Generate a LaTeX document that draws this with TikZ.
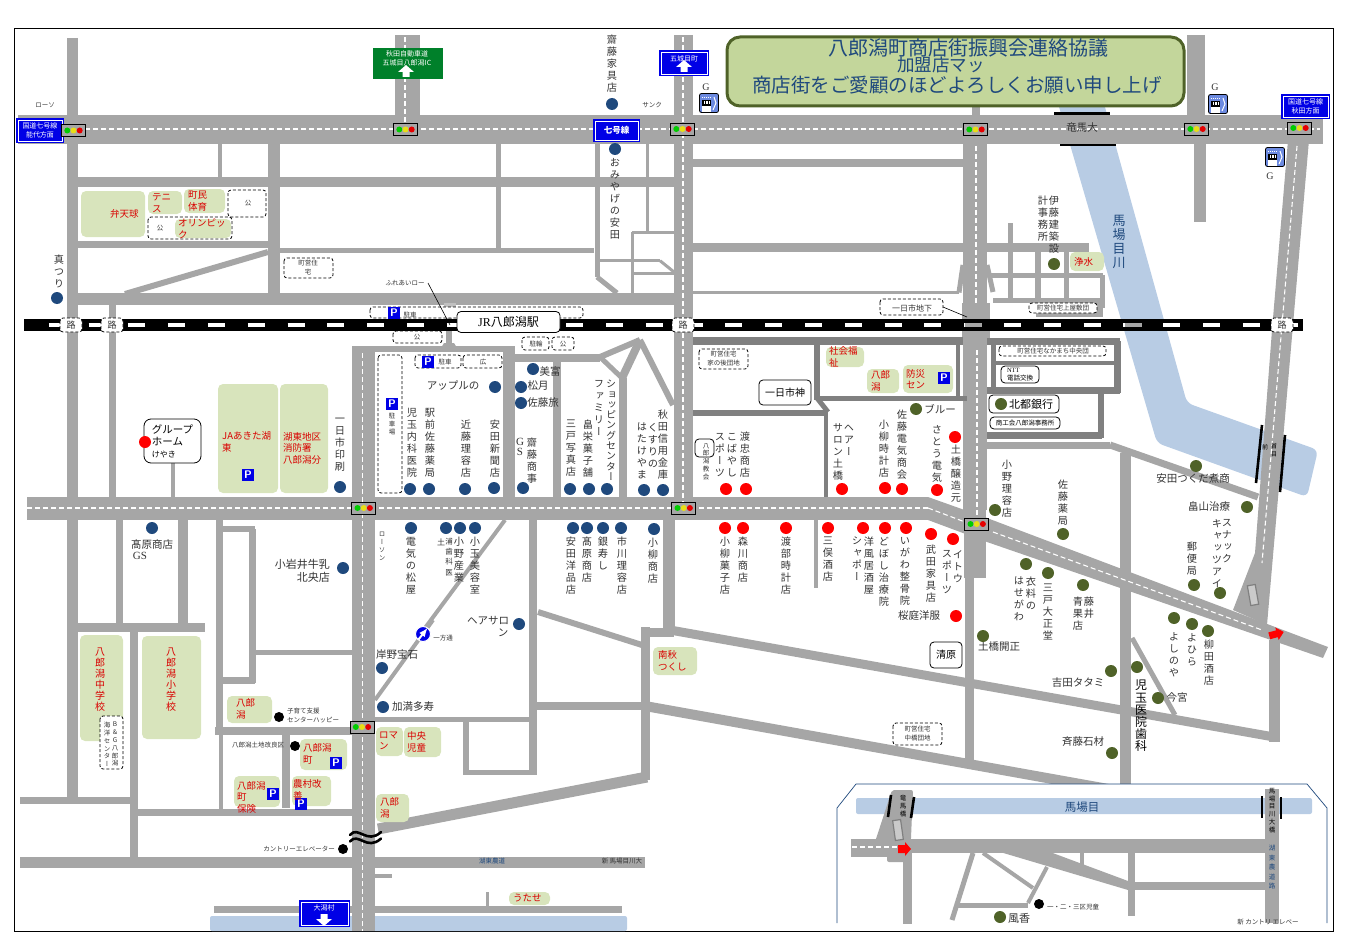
\documentclass[tikz,border=0pt]{standalone}
\usepackage{fontspec}
\setmainfont{Noto Sans CJK JP}
\newfontfamily\tatefont[RawFeature=+vert]{Noto Sans CJK JP}
\newfontfamily\latinfont{Liberation Serif}
\usetikzlibrary{calc}
\definecolor{roadgray}{HTML}{A6A6A6}
\definecolor{darkroad}{HTML}{808080}
\definecolor{river}{HTML}{B8CCE4}
\definecolor{titlefill}{HTML}{C3D69B}
\definecolor{titleedge}{HTML}{4F6228}
\definecolor{navy}{HTML}{1F497D}
\definecolor{facgreen}{HTML}{D8E4BC}
\definecolor{shoptext}{HTML}{333333}
\definecolor{signblue}{HTML}{0000E6}
\definecolor{signgreen}{HTML}{00802A}
\definecolor{pumpblue}{HTML}{6C8AE0}
\newcommand\fs[2]{\fontsize{#1}{#2}\selectfont}
\newlength\tatepitch
\setlength\tatepitch{12pt}
\makeatletter
\newcommand\tatex[1]{\vbox{\baselineskip=\tatepitch\lineskiplimit=-20pt\tatefont
  \@tfor\tatech:=#1\do{\hbox to \tatepitch{\hss\tatech\hss}}}}
\makeatother
\newcommand\tate[1]{\expandafter\tatex\expandafter{#1}}
\begin{document}
\begin{tikzpicture}[x=1pt,y=-1pt]
\tikzstyle{road} = [draw=roadgray, line width=#1, line join=round]
\tikzstyle{droad} = [draw=darkroad, line width=#1, line join=round]
\tikzstyle{centerline} = [draw=white, line width=1.1, dash pattern=on 5 off 3]
\tikzstyle{shop} = [anchor=north, inner sep=0, text=shoptext, font=\fs{10.2}{12}]
\tikzstyle{shoph} = [inner sep=0, text=shoptext, font=\fs{10.5}{13}]
\tikzstyle{tiny} = [inner sep=0, text=shoptext, font=\fs{6.5}{9}, align=left]
\tikzstyle{redlabel} = [inner sep=0, text=red!85!black, font=\fs{9.5}{11.5}, align=left]
\tikzstyle{redtate} = [anchor=north, inner sep=0, text=red!85!black, font=\fs{10}{12}]
\tikzstyle{facility} = [fill=facgreen, rounded corners=5]
\tikzstyle{lotbox} = [draw=black, densely dashed, line width=0.8, rounded corners=3, fill=white]
\tikzstyle{namebox} = [draw=black, line width=0.8, rounded corners=4, fill=white]
\tikzstyle{parking} = [draw=signblue, fill=signblue, line width=0.8, text=white, minimum size=11.5, inner sep=0, font=\fs{11}{11}\bfseries\sffamily]
\tikzstyle{signtext} = [inner sep=0, text=white, font=\fs{7}{9}, align=center]
\useasboundingbox (0,0) rectangle (1347,947);
\draw[line width=0.9] (14.5,28) rectangle (1333,931);
% river
\fill[river, rounded corners=6] (1057,100) -- (1103,100) -- (1187,403) -- (1318,450) -- (1307,497) -- (1157,443) -- cycle;
\fill[river, rounded corners=2] (210,916) -- (627,916) -- (627,931) -- (210,931) -- cycle;
% roads
\foreach \w/\a/\b/\c/\d in {29/18/129.5/1323/129.5, 11/72/38/72/800, 7/20/800/135/800, 7/112/305/112/497,
  12/78/299/674/299, 9/78/182/674/182, 12/274/144/274/293, 4.5/220/144/220/177, 7/78/244/268/244, 5/280/250.5/594/250.5,
  5/597/144/597/277, 6/125/294/268/252, 5/498/144/498/248, 3/647/144/647/232, 3/632/232/674/232, 3/632.7/232/632.7/293,
  3/597/260.7/660/260.7, 3/660/260.7/674/272, 3/632/273/674/273, 5/597/277/617/293, 19/683.5/35/683.5/510, 12/669/520/669/632,
  8/693/163/963/163, 9/693/247.5/1089/247.5, 3/693/292.5/959/292.5, 24/975/144/975/510, 8/976/105/976/115,
  22/975/510/975/578, 9/969/578/969/765, 28/976/303/976/345, 5/990/275/1103/275, 5/993/300/1100/300, 5/1102.6/275/1102.6/308,
  5/1010.6/223/1010.6/300, 6/1038/248/1038/300, 5/1066.6/248/1066.6/300, 18/1196/35/1196/115, 12/1199.5/144/1199.5/222,
  25/407.5/35/407.5/115, 23/363.5/347/363.5/931, 6/352/349/515/349, 12/509/346/509/497, 8/515/358/600/358, 6/600/357/640/340,
  5/600/357/622/378, 8/640/340/622/378, 6/640/340/673/405, 8/622.7/378/622.7/497, 8/557/358/557/497, 7/987/445/1110/445,
  7/1110/445/1258/497, 11/1125/453/1125/785, 11/1274/640/1274/742, 9/670/630/1274/737, 10/645/706/1125/792,
  5/1132/638/1175/715, 23/27/508.5/928/508.5, 7/119/520/119/627, 10/183/520/183/630, 7/219/520/219/735, 4/221/735/221/810,
  9/70/627/205/627, 8/134/630/134/857, 6/223/529/255/529, 7/252/529/252/683, 7/221/680.7/255/680.7, 5/255/652/352/652,
  8/215/731/352/731, 8/286/735/286/808, 7/134/812/352/812, 5/375/719/537/719, 8/532.7/520/532.7/775, 5/463/772.7/536/772.7,
  6/466/719/466/775, 11/378/829/647/777, 9/645.7/627/645.7/780, 9/641/632/674/632, 8/535/706/642/706, 6/538/612/642/645,
  4/505/520/425/628, 4/433/620/375/700, 11/20/862/645/862, 4/375/876/392/876, 7/214/909/622/909, 3/487/892/487/906,
  4/173/463/173/497, 4/816/520/816/588, 6/449/303/449/346, 5/959/292.5/963/265, 5/993/292/987/265}
  \draw[road=\w] (\a,\b) -- (\c,\d);
\fill[roadgray] (928,497) -- (987,518) -- (1328,647) -- (1323,658) -- (987,542) -- (928,520) -- cycle;
\fill[roadgray] (1288,140) -- (1309,140) -- (1267,625) -- (1233,610) -- (1255,553) -- (1272,330) -- cycle;
\draw[draw=darkroad, fill=roadgray!60, line width=1.2, rotate around={10:(1253,595)}] (1249,585) rectangle (1257,605);
\fill[roadgray] (1036,300) rectangle (1103,317);
\fill[roadgray] (444,343) -- (454,343) -- (457,348) -- (441,348) -- cycle;
\fill[roadgray!70] (444,303) rectangle (456,307);
% darker block roads
\foreach \w/\a/\b/\c/\d in {8/693/341/963/341, 6/817/345/817/400, 5/817/398/967/398, 4/958/345/958/398, 6/693/413/828/413,
  5/817/398/828/412, 4/826/413/826/497, 7/987/341/1120/341, 7/987/390/1120/390, 7/1117/341/1117/393, 4/994/363/1117/363,
  5/993/341/993/390, 7/987/435/1102/435, 6/1101/392/1101/438}
  \draw[droad=\w] (\a,\b) -- (\c,\d);
% bridge bars
\foreach \a/\b/\c/\d in {1054/113.5/1110/113.5, 1060/145/1116/145, 1262/425/1256/483, 1285/435/1280/492}
  \draw[line width=2.6] (\a,\b) -- (\c,\d);
% centre lines
\foreach \a/\b/\c/\d in {85/129/1320/129, 405/37/405/125, 683/37/683/318, 683/333/683/505, 976/146/976/303, 977/350/977/515,
  362.5/353/362.5/931, 27/508/928/508, 1297/146/1262/563}
  \draw[centerline] (\a,\b) -- (\c,\d);
\draw[centerline] (928,508) -- (965,522);
\draw[centerline] (993,532) -- (1262,630);
% railway
\draw[line width=12] (24,325) -- (1303,325);
\draw[white, line width=4, dash pattern=on 17 off 22.8, dash phase=20] (29,325) -- (1298,325);
\foreach \x in {965,1125}
  \draw[roadgray, line width=4] (\x,325) -- (\x+17,325);
% facilities
\foreach \a/\b/\c/\d in {81/191/145/237, 148/191/182/214, 184/189/225/213, 218/384/278/493, 280/384/328/493,
  826/347/864/367, 867/369/899/393, 903/365/953/393, 1070/252/1104/271, 653/647/697/675, 376/727/403/756, 404/727/441/757,
  376/794/409/822, 227/696/272/723, 300/739/347/770, 234/776/280/807, 292/776/331/806, 509/892/550/905, 80/635/123/741, 142/636/201/739}
  \fill[facility] (\a,\b) rectangle (\c,\d);
% dashed lots
\foreach \a/\b/\c/\d in {228/190/266/217, 148/217/232/239, 284/258/333/278, 370/307/583/318, 393/331/442/343, 522/337/549/350,
  552/337/574/350, 415/355/461/368, 463/355/502/368, 378/355/402/493, 699/349/748/369, 999/346/1106/356, 1029/303/1097/313,
  880/299/943/315, 893/723/942/745, 100/716/123/769, 60/318/82/332, 101/318/123/332, 672/318/694/332, 1271/318/1293/332}
  \draw[lotbox] (\a,\b) rectangle (\c,\d);
\fill[facility] (175,219) rectangle (231,238);
\draw[line width=0.6] (428,283) -- (450,325);
\draw[line width=0.6] (943,307) -- (967,317);
% named boxes
\node[namebox, minimum width=103, minimum height=21, inner sep=0, font=\fs{12}{14}] (station) at (508.5,322) {\latinfont JR\rmfamily 八郎潟駅};
\node[namebox, minimum width=52, minimum height=25, inner sep=0, font=\fs{10}{12}] (ichinichi) at (785,392.5) {一日市神};
\node[namebox, minimum width=32, minimum height=26, inner sep=0, font=\fs{10}{12}] (kiyohara) at (946,655) {清原};
\node[namebox, minimum width=70, minimum height=18, inner sep=0, font=\fs{11}{13}] (hokuto) at (1024,404) {\hspace*{14pt}北都銀行};
\node[namebox, minimum width=70, minimum height=12, inner sep=0, font=\fs{6.5}{8}] (shoko) at (1025,423) {商工会八郎潟事務所};
\node[namebox, minimum width=38, minimum height=17, inner sep=2, font=\fs{6.5}{8}, align=left] (ntt) at (1020,374.5) {\latinfont NTT\\\rmfamily 電話交換};
\node[namebox, minimum width=57, minimum height=44, inner sep=0, rounded corners=7, font=\fs{10.5}{12}, align=left] (home) at (172.5,441) {グループ\\ホーム\\{\fs{8}{10}けやき}};
\node[namebox, minimum width=19, minimum height=18] (church) at (704.5,448) {};
% title
\draw[fill=titlefill, draw=titleedge, line width=3, rounded corners=13] (727,37) rectangle (1184,106);
\node[inner sep=0, text=navy, font=\fs{20}{21}] (titlea) at (968,48) {八郎潟町商店街振興会連絡協議};
\node[inner sep=0, text=navy, font=\fs{17.5}{18}] (titleb) at (941,65) {加盟店マッ};
\node[inner sep=0, text=navy, font=\fs{19.5}{20}] (titlec) at (957,85) {商店街をご愛顧のほどよろしくお願い申し上げ};
% signs
\fill[signgreen] (373,48) rectangle (443,79);
\node[signtext, font=\fs{7}{8.8}] (sgreen) at (407,58) {秋田自動車道\\五城目八郎潟IC};
\foreach \a/\b/\c/\d in {16/118/64/143, 659/50/709/76, 593/119/640/142, 1281/94/1330/119, 299/900/350/927}{
  \fill[signblue] (\a,\b) rectangle (\c,\d);
  \draw[white, line width=0.7] (\a+2,\b+2) rectangle (\c-2,\d-2);
}
\node[signtext] (snoshiro) at (40,130.5) {国道七号線\\能代方面};
\node[signtext] (sgojome) at (684,59) {五城目町};
\node[signtext, font=\fs{8.5}{10}\bfseries] (sroute) at (616.5,130) {七号線};
\node[signtext] (sakita) at (1305.5,106.5) {国道七号線\\秋田方面};
\node[signtext] (sogata) at (324,908) {大潟村};
\foreach \x/\y/\s in {406/72/1, 684/67/1, 324/919/-1}
  \fill[white, shift={(\x,\y)}, yscale=\s] (0,-7) -- (8,0) -- (3.5,0) -- (3.5,5) -- (-3.5,5) -- (-3.5,0) -- (-8,0) -- cycle;
% traffic lights
\foreach \x/\y in {73.5/130.5, 405.5/129.5, 682.5/129, 975.5/129.5, 1196.5/129, 1299.5/128, 363.7/508, 683.7/508, 976.7/524, 362/727}{
  \draw[fill=roadgray, line width=0.9] (\x-12,\y-6) rectangle (\x+12,\y+6);
  \fill[green!80!black] (\x-6.2,\y) circle (3);
  \fill[yellow!90!black] (\x,\y) circle (3);
  \fill[red!90!black] (\x+6.2,\y) circle (3);
}
% fuel pumps
\foreach \x/\y in {709/103, 1218/104, 1275/157}{
  \draw[fill=pumpblue, line width=0.8, rounded corners=2] (\x-9.5,\y-9.5) rectangle (\x+9.5,\y+9.5);
  \fill[black] (\x-7.5,\y-3) rectangle (\x+2,\y+3);
  \fill[white] (\x-7.5,\y+3) rectangle (\x+2,\y+9);
  \foreach \b in {-5,-2.7,-0.4}
    \fill[white] (\x+\b,\y-1.5) rectangle (\x+\b+1.2,\y+1.5);
  \draw[white, line width=0.6, dash pattern=on 1 off 1] (\x-7,\y-6) -- (\x+3,\y-6);
  \draw[white, line width=1] (\x+5,\y-6) -- (\x+7,\y) -- (\x+4,\y+7);
}
% parking
\foreach \x/\y in {394/313, 428/362, 392/404, 248/475, 944/378, 336/763, 273/794, 301/804}
  \node[parking] at (\x,\y) {P};
% vertical shop names
\foreach \x/\y/\txt [count=\i] in {612/35/齋藤家具店, 615/158/おみやげの安田, 1054/196/伊藤建築設, 1043/196/計事務所, 59/255/真つり,
  340/418/一日市印刷, 412/408/児玉内科医院, 430/408/駅前佐藤薬局, 466/420/近藤理容店, 495/420/安田新聞店, 532/438/齋藤商事,
  411/537/電気の松屋, 459/537/小野産業, 475/537/小玉美容室, 571/420/三戸写真店, 588/420/畠栄菓子舗, 599/380/ファミリー,
  663/410/秋田信用金庫, 653/423/くすりの, 642/423/はたけやま, 720/433/スポーツ, 732/433/こばやし, 745/432/渡忠商店,
  849/425/ヘアー, 838/423/サロン土橋, 884/420/小柳時計店, 902/410/佐藤電気商会, 937/425/さとう電気, 956/445/土橋醸造元,
  653/538/小柳商店, 571/537/安田洋品店, 587/537/髙原商店, 603/537/銀寿し, 622/537/市川理容店, 725/537/小柳菓子店,
  743/537/森川商店, 786/537/渡部時計店, 828/537/三俣酒店, 869/537/洋風居酒屋, 857/537/シャポー, 884/537/どぼし治療院,
  905/537/いがわ整骨院, 931/545/武田家具店, 947/550/スポーツ, 958/550/イトウ, 1007/460/小野理容店, 1063/480/佐藤薬局,
  1227/519/スナック, 1217/519/キャッツアイ, 1192/542/郵便局, 1031/577/衣料の, 1019/577/はせがわ, 1048/584/三戸大正堂,
  1089/597/藤井, 1078/597/青果店, 1174/632/よしのや, 1192/633/よひら, 1209/640/柳田酒店}
  \node[shop] (name\i) at (\x,\y) {\tate{\txt}};
\setlength\tatepitch{10.3pt}
\node[shop, font=\fs{10}{12}] (shopping) at (611,380) {\tate{ショッピングセンター}};
\setlength\tatepitch{12pt}
\node[shop, font=\fs{11}{12}] (gs) at (520,438) {\latinfont\shortstack{G\\S}};
\setlength\tatepitch{14pt}
\node[shop, text=navy, font=\fs{13}{14}] (baba) at (1119,215) {\tate{馬場目川}};
\setlength\tatepitch{12.2pt}
\node[shop, text=black, font=\fs{12}{14}] (kodama) at (1141,680) {\tate{児玉医院歯科}};
\setlength\tatepitch{10.2pt}
\node[shop, font=\fs{7.5}{9}] (urahi) at (449,538) {\tate{浦歯科医}};
% small vertical names
\setlength\tatepitch{7.8pt}
\foreach \x/\y/\txt [count=\i] in {392/413/駐車場, 382/532/ローソン, 706/443/八郎潟教会, 115/722/B\&G八郎潟, 107/722/海洋センター}
  \node[shop, font=\fs{6.5}{8}] (small\i) at (\x,\y) {\tate{\txt}};
\node[tiny, text=black, font=\fs{6}{8}] (mae) at (1265,447) {前};
\node[shop, text=black, font=\fs{6}{8}] (mae2) at (1274,443) {\tate{首目}};
\setlength\tatepitch{11pt}
\foreach \x/\y/\txt in {100/648/八郎潟中学校, 171/648/八郎潟小学校}
  \node[redtate] at (\x,\y) {\tate{\txt}};
\setlength\tatepitch{12pt}
% horizontal names
\foreach \x/\y/\txt [count=\i] in {453/386/アップルの, 550/372/美富, 538/386/松月, 543/403/佐藤旅, 152/545/髙原商店, 488/621/ヘアサロ,
  503/633/ン, 940/409/ブルー, 919/616/桜庭洋服, 1193/479/安田つくだ煮商, 1209/506/畠山治療, 999/647/土橋開正, 1078/683/吉田タタミ,
  1177/698/今宮, 1083/742/斉藤石材, 397/654/岸野宝石, 413/707/加満多寿, 1082/128/竜馬大}
  \node[shoph] (label\i) at (\x,\y) {\txt};
\node[shoph, font=\fs{8}{9}] (tsuchi) at (441,542) {土};
\node[shoph, font=\fs{11}{13}, align=right, anchor=east] (koiwai) at (330,570.5) {小岩井牛乳\\北央店};
\foreach \x/\y in {71/325, 112/325, 683/325, 1282/325}
  \node[tiny, font=\fs{9}{10}] at (\x,\y) {路};
\foreach \x/\y/\txt in {652/105/サンク, 405/283/ふれあいロー, 417/337/公, 248/203/公, 160/228/公, 536/344/駐輪, 563/344/公,
  410/315/駐車, 445/362/駐車, 483/362/広, 1053/351/町営住宅なかまち中央団, 1063/308/町営住宅上屋敷団, 443/638/一方通,
  258/745/八郎潟土地改良区, 299/849/カントリーエレベーター}
  \node[tiny] at (\x,\y) {\txt};
\node[tiny] at (45,105) {ローソ};
\node[tiny, align=center] (chojua) at (308,268) {町営住\\宅};
\node[tiny, align=center] (chojub) at (723.5,359) {町営住宅\\家の後団地};
\node[tiny, align=center] (chojuc) at (917.5,734) {町営住宅\\中橋団地};
\node[shoph, font=\fs{8}{9}] (ichiba) at (912,308) {一日市地下};
\node[tiny, anchor=west] (happy) at (287,716) {子育て支援\\センターハッピー};
\node[tiny, text=navy] (noudo) at (492,861) {湖東農道};
\node[tiny] (shinba) at (622,861) {新 馬場目川大};
% G marks
\foreach \x/\y in {706/87, 1215/87, 1270/176}
  \node[shoph, font=\fs{10}{11}] at (\x,\y) {\latinfont G};
\node[shoph, font=\fs{11}{12}] (takaharags) at (140,556) {\latinfont GS};
% red labels
\foreach \x/\y/\txt [count=\i] in {110/214/弁天球, 152/{203}/{テニ\\ス}, 188/{201}/{町民\\体育}, 178/{229}/{オリンピッ\\ク},
  222/{442}/{JAあきた湖\\東}, 283/{448}/{湖東地区\\消防署\\八郎潟分}, 829/{357}/{社会福\\祉}, 871/{381}/{八郎\\潟},
  906/{379}/{防災\\セン}, 1074/262/浄水, 658/{661}/{南秋\\つくし}, 379/{741}/{ロマ\\ン}, 407/{742}/{中央\\児童},
  380/{808}/{八郎\\潟}, 236/{709}/{八郎\\潟}, 303/{754}/{八郎潟\\町}, 237/{797}/{八郎潟\\町\\保険}, 293/{790}/{農村改\\善}, 513/898/うたせ}
  \node[redlabel, anchor=west] (fac\i) at (\x,\y) {\txt};
% inset
\draw[navy, fill=white, line width=0.7] (837,923) -- (837,808) -- (856,784) -- (1307,784) -- (1327,808) -- (1327,923);
\fill[river, rounded corners=2] (856,798) rectangle (1312,814);
\node[shoph, font=\fs{11.5}{13}, text=navy] (babame) at (1082,807) {馬場目};
\foreach \w/\a/\b/\c/\d in {14/1272/789/1272/923, 14/851/846/1279/846, 9/907.5/850/907.5/924, 5/973/853/952/920, 4/983/853/1033/888,
  4/1047/867/1028/903, 5/958/905/1028/905, 8/1127/886/1265/886, 7/1131/853/1131/916, 4/1082/853/1082/867}
  \draw[road=\w] (\a,\b) -- (\c,\d);
\fill[roadgray] (1000,852) -- (1050,852) -- (1128,881) -- (1128,890) -- cycle;
\fill[roadgray, rounded corners=2] (892,790) -- (913,790) -- (910,862) -- (887,862) -- (887,842) -- (875,842) -- cycle;
\fill[roadgray] (851,840) rectangle (905,857);
\draw[draw=darkroad, fill=roadgray!60, line width=1.2, rotate around={8:(898,830)}] (894,820) rectangle (902,840);
\draw[centerline] (852,847) -- (898,847);
\foreach \a/\b/\c/\d in {891/795/888/817, 914/797/911/818, 1262/796/1262/818, 1281/797/1281/819}
  \draw[line width=2.6] (\a,\b) -- (\c,\d);
\setlength\tatepitch{7.8pt}
\node[shop, text=black, font=\fs{6.5}{8}] (ryuma) at (903,795) {\tate{竜馬橋}};
\node[shop, text=black, font=\fs{6.5}{8}] (ohashi) at (1272,788) {\tate{馬場目川大橋}};
\setlength\tatepitch{9.6pt}
\node[shop, font=\fs{6.5}{8}, text=navy] (koto) at (1272,845) {\tate{湖東農道路}};
\node[tiny] (jidou) at (1073,907) {一・二・三区児童};
\node[tiny] (kantori) at (1268,922) {新 カントリ エレベー};
\node[shoph, font=\fs{11}{13}] (fuka) at (1019,918) {風香};
% dots
\foreach \x/\y in {57/298, 612/104, 615/149, 340/487, 410/489, 429/489, 465/489, 494/488, 523/488, 495/387, 521/387, 521/403, 533/369,
  152/528, 343/568, 411/528, 446/528, 460/528, 475/528, 519/624, 570/489, 589/489, 607/489, 644/490, 663/490, 573/528, 587/528, 603/528,
  621/528, 654/529, 382/668, 383/707}
  \fill[navy] (\x,\y) circle (6);
\foreach \x/\y in {145/442, 726/489, 746/489, 842/489, 885/488, 902/489, 937/490, 955/437, 725/528, 743/528, 786/528, 828/528, 863/528,
  885/528, 906/528, 931/534, 953/539, 956/616}
  \fill[red] (\x,\y) circle (6);
\foreach \x/\y in {916/409, 1054/264, 1001/404, 995/510, 1063/534, 1026/564, 1048/573, 1083/585, 983/636, 1196/466, 1247/507, 1194/585,
  1220/593, 1174/618, 1192/624, 1208/631, 1111/671, 1137/667, 1158/698, 1112/753, 1000/917}
  \fill[titleedge] (\x,\y) circle (6);
\foreach \x/\y in {279/717, 295/746, 343/849, 1039/904}
  \fill (\x,\y) circle (5);
% one way mark
\draw[white, fill=signblue, line width=1] (423,634) circle (7.5);
\draw[white, line width=2, -latex] (418.5,639.5) -- (427.5,628);
% break mark
\foreach \y in {0,6.5}
  \draw[line width=2.6, line cap=round] (350,835+\y) .. controls (358,825+\y) and (367,845+\y) .. (381,832+\y);
% red arrows
\fill[red, shift={(1276,634)}, rotate=-75] (0,-8) -- (6.5,-1) -- (3.5,-1) -- (3.5,7) -- (-3.5,7) -- (-3.5,-1) -- (-6.5,-1) -- cycle;
\fill[red, shift={(904,849)}, rotate=-90] (0,-7) -- (7,-1) -- (4,-1) -- (4,6) -- (-4,6) -- (-4,-1) -- (-7,-1) -- cycle;
\end{tikzpicture}
\end{document}
